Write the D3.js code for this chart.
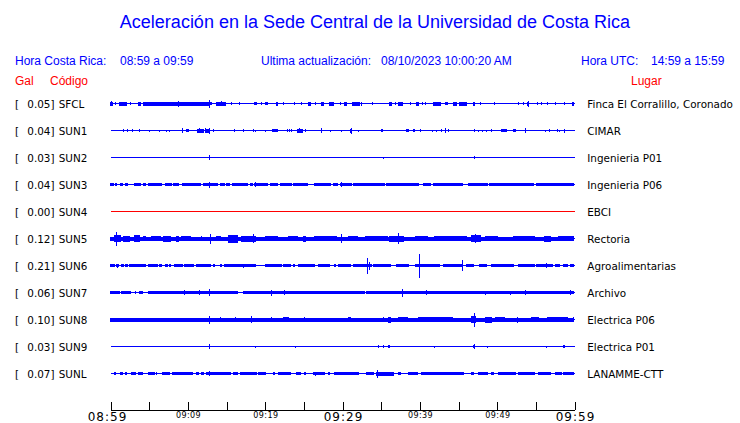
<!DOCTYPE html>
<html><head><meta charset="utf-8">
<script src="https://cdn.jsdelivr.net/npm/d3@7"></script>
<style>body{margin:0;background:#fff;} svg{display:block;}</style>
</head><body>
<svg id="c" width="740" height="423"></svg>
<script>
// ---------- data ----------
const codes  = ["SFCL","SUN1","SUN2","SUN3","SUN4","SUN5","SUN6","SUN7","SUN8","SUN9","SUNL"];
const galMax = [0.05,0.04,0.03,0.04,0.00,0.12,0.21,0.06,0.10,0.03,0.07];
const places = ["Finca El Corralillo, Coronado","CIMAR","Ingenieria P01","Ingenieria P06","EBCI","Rectoria","Agroalimentarias","Archivo","Electrica P06","Electrica P01","LANAMME-CTT"];

const tickMinutes = [0,5,10,15,20,25,30,35,40,45,50,55,60];
const tickLabels  = ["08:59","","09:09","","09:19","","09:29","","09:39","","09:49","","09:59"];
const majorLabels = ["08:59","09:29","09:59"];

// waveform envelopes: [startMinute, endMinute, amplitude] (minutes after 08:59)
const sfcl = [[0,0.37,2],[0.15,0.15,2.5],[0.71,0.88,1.3],[1.1,2.09,2],[2.56,2.74,1.5],[3.56,3.94,2],[4.25,12.22,2],[8.77,8.77,3],[12.22,12.74,2],[12.78,12.78,4],[12.99,13.3,1.5],[13.73,15.02,2],[14.37,14.37,2.8],[15.67,15.67,1.2],[16.66,16.66,1.2],[18.56,18.91,1.5],[19.55,19.55,1.2],[20.07,20.41,1.5],[21.49,21.79,2],[22.43,22.43,1.2],[23.77,23.77,1.2],[24.72,24.72,1.2],[25.66,26.09,2],[26.53,26.53,1.2],[27.22,27.6,2],[28.38,29.03,2],[29.68,29.68,1.2],[30.24,30.67,2],[31.27,32.26,2],[32.48,32.48,2],[33.86,33.86,1.2],[36.14,36.49,2],[36.88,36.88,1.2],[37.22,37.91,2],[38.77,38.77,1.2],[39.59,39.94,2],[40.32,40.32,1.2],[40.75,40.75,1.2],[41.74,42.82,2],[43.34,43.68,1.5],[44.29,44.8,2],[45.19,46.19,2],[47.0,47.22,2],[47.82,47.82,1.2],[49.63,49.63,1.2],[52.82,52.82,1.2],[53.38,53.38,1.2],[53.94,54.24,2],[54.07,54.07,3],[55.19,55.19,1.2],[55.75,55.75,1.2],[56.48,56.48,1.2],[57.48,57.48,1.2],[58.77,58.77,1.2],[59.76,60,2]];
const sun1 = [[1.66,1.66,1.2],[2.18,2.18,1.2],[2.82,2.82,1.2],[3.81,3.81,1.2],[5.02,5.02,1],[6.4,6.4,1],[7.18,7.18,1],[7.69,7.69,1],[9.29,9.29,2.5],[9.85,10.28,1.5],[11.27,12.22,2],[11.57,11.57,2.5],[12.22,12.22,2.5],[12.44,12.99,2],[12.74,12.74,3],[13.3,13.3,1.2],[16.01,16.19,1.2],[17.18,17.31,1.5],[18.47,18.47,1.2],[18.77,18.77,1],[19.98,19.98,1],[20.93,21.7,1.5],[22.91,22.91,1.2],[23.21,23.21,1.2],[23.43,23.43,1.2],[24.2,24.94,2],[24.42,24.42,2.5],[25.28,25.28,1.2],[27.3,27.3,2.8],[28.47,28.47,1],[29.89,29.89,1],[30.97,31.27,2],[31.19,31.19,3],[32.05,32.05,1],[34.98,35.2,1.5],[38.34,38.73,1.5],[39.16,39.38,1.5],[40.03,40.03,1.2],[41.62,41.62,1],[42.18,42.18,1],[42.74,42.74,1.2],[43.34,43.34,2.5],[43.68,43.68,1.5],[47.13,47.13,1.2],[47.56,47.56,1],[48.12,48.12,1],[48.64,48.64,1],[49.29,49.29,1.2],[50.5,51.23,1.5],[52.09,52.52,1.5],[53.64,53.64,2.8],[56.27,56.27,1],[56.83,56.83,1.2],[57.78,57.78,1.2],[58.12,58.12,1],[58.69,58.69,2]];
const sun2 = [[12.78,12.78,2.5],[35.28,35.28,1],[47.05,47.05,1.5]];
const sun3 = [[0,0.5,1.5],[0.71,1.01,1.5],[1.23,1.66,1.5],[1.96,2.39,1.5],[3.08,4.03,1.5],[4.25,4.68,1.5],[4.89,5.67,1.5],[5.75,6.83,1.5],[7.05,7.91,1.5],[8.21,8.99,1.5],[9.29,11.79,1.5],[12.0,13.94,1.5],[14.16,14.8,1.5],[15.02,15.58,1.5],[15.8,17.82,1.5],[18.04,18.47,1.5],[18.6,20.41,1.5],[20.63,21.7,1.5],[21.92,23.43,1.5],[23.64,25.58,1.5],[26.44,28.6,1.5],[28.81,29.46,1.5],[29.68,31.19,1.5],[31.4,35.5,1.5],[35.72,40.03,1.5],[40.45,41.53,1.5],[41.75,45.62,1.5],[46.27,48.86,1.5],[49.07,54.89,1.5],[55.11,60,1.5],[12.78,12.78,3],[18.69,18.69,2.5],[29.81,29.81,2.2],[15.88,15.88,1.8]];
const sun4 = [];
const sun5 = [[0,60,2],[0.58,1.44,3.5],[0.8,0.8,7],[1.66,2.52,3],[3.08,3.81,3.5],[4.25,4.68,2.5],[5.32,6.62,2.5],[6.83,7.91,3],[8.56,8.99,3],[9.2,10.5,2.5],[11.79,11.79,2.5],[12.87,12.87,5],[13.73,14.37,2.5],[15.24,16.53,4],[16.96,18.9,3],[18.47,18.47,4.5],[19.98,21.7,2.5],[22.99,24.29,2.5],[24.94,25.37,3],[26.44,29.46,2.5],[29.89,29.89,4.5],[30.75,32.05,2.5],[32.91,35.93,2.5],[36.14,38.08,3],[37.22,37.22,5.5],[39.38,41.1,2.5],[41.96,46.27,2.5],[46.7,47.99,3.5],[47.22,47.22,4.5],[48.43,50.15,2.5],[52.09,54.89,2.5],[56.18,57.04,3],[57.9,60,2.5]];
const sun6 = [[0,0.6,1.3],[0.8,1.23,1.3],[1.44,1.79,1.3],[1.96,2.31,1.3],[2.52,4.68,1.3],[4.89,6.19,1.3],[6.4,6.83,1.3],[7.05,7.48,1.3],[7.69,7.99,1.3],[8.25,9.42,1.3],[9.63,10.93,1.3],[11.14,13.08,1.3],[13.3,13.51,1.3],[14.16,14.37,1.3],[14.8,16.96,1.3],[16.96,18.9,1.3],[19.98,22.13,1.3],[22.56,23.43,1.3],[23.64,23.86,1.3],[24.29,26.44,1.3],[26.87,28.38,1.3],[29.03,29.24,1.3],[29.46,31.19,1.3],[31.4,32.91,1.3],[32.91,33.77,1.3],[33.99,36.36,1.3],[37.0,38.73,1.3],[39.38,42.61,1.3],[43.07,45.62,1.3],[46.05,47.13,1.3],[47.78,48.86,1.3],[49.29,52.3,1.3],[52.73,54.89,1.3],[55.1,57.26,1.3],[57.48,58.12,1.3],[58.55,59.2,1.3],[59.42,60,1.3],[0.93,0.93,2],[17.18,17.18,2],[22.35,22.35,1.7],[33.21,33.21,8],[33.47,33.47,4],[39.94,39.94,12],[45.5,45.5,5.5],[56.4,56.4,2.5]];
const sun7 = [[0,1.23,1.8],[1.44,2.74,1.8],[3.25,3.38,1.8],[3.81,4.38,1.8],[4.89,16.53,1.8],[17.18,32.91,1.8],[33.13,60,1.8],[9.63,9.63,2.5],[11.57,11.57,2.5],[12.78,12.78,3.5],[20.84,20.84,3],[22.56,22.56,2.2],[37.78,37.78,4],[40.88,40.88,2.5],[48.43,48.43,2],[51.66,51.66,2],[53.68,53.68,2.5],[59.5,59.5,2.5]];
const sun8 = [[0,60,2],[12.78,12.78,4],[14.16,14.16,2.5],[16.19,16.19,2.5],[18.26,18.26,3.5],[20.84,20.84,2.5],[22.35,23.13,2.5],[25.06,25.06,2.5],[28.25,28.25,2],[30.75,31.1,2.5],[35.28,35.28,2.5],[36.01,36.44,3],[37.22,38.51,2.5],[39.81,44.33,2.5],[46.62,47.22,3.5],[47.05,47.05,7],[48.43,49.29,3],[49.72,51.01,2.5],[52.61,52.61,3],[54.46,55.54,2.5],[56.48,59.2,2.5],[59.85,59.85,2.5]];
const sun9 = [[12.78,12.78,2.5],[18.77,18.77,1],[23.86,23.86,1],[34.63,34.63,1.5],[35.28,35.28,1.5],[36.01,36.23,1.5],[41.87,41.87,1],[46.96,47.22,1.8],[47.05,47.05,2.5],[48.73,48.73,1],[56.4,56.4,1],[58.56,58.56,1.5],[58.77,58.77,1.5]];
const sunl = [[0.58,0.8,1.3],[1.23,1.66,1.3],[1.88,2.09,1.3],[2.74,3.38,1.3],[3.6,4.25,1.3],[4.89,5.75,1.3],[5.97,5.97,1.3],[6.7,7.69,1.3],[8.04,10.71,1.3],[11.14,11.57,1.3],[11.79,12.22,1.3],[12.44,15.67,1.3],[15.88,16.53,1.3],[16.75,18.9,1.3],[19.12,20.19,1.3],[21.06,21.27,1.3],[21.7,23.43,1.3],[24.07,24.72,1.3],[25.15,25.37,1.3],[26.23,27.74,1.3],[28.17,28.38,1.3],[29.03,32.26,1.3],[33.13,34.2,1.3],[34.42,36.79,2],[37.22,37.65,1.3],[38.51,39.81,1.3],[40.24,45.84,1.3],[46.7,47.13,1.3],[47.56,48.86,1.3],[49.29,49.72,1.3],[50.15,52.52,1.3],[52.73,54.89,1.3],[55.32,57.04,1.3],[57.48,58.34,1.3],[58.56,60,1.3],[12.78,12.78,2.5],[34.55,34.55,4],[26.53,26.53,2],[48.43,48.43,1.8]];
const traces = [sfcl,sun1,sun2,sun3,sun4,sun5,sun6,sun7,sun8,sun9,sunl];

// ---------- drawing ----------
const svg = d3.select("#c");
const BLUE = "#0000ff", RED = "#ff0000";
const x = d3.scaleLinear().domain([0,60]).range([110.5,574.5]);
const y = d3.scalePoint().domain(codes).range([103.5,373.5]);
const amp = d3.scaleLinear().domain([0,13.5]).range([0,13.5]);

// title & header
svg.append("text").attr("x",375).attr("y",28).attr("text-anchor","middle")
  .attr("font-family","Liberation Sans, Arial, sans-serif").attr("font-size",18).attr("fill",BLUE)
  .text("Aceleración en la Sede Central de la Universidad de Costa Rica");
const hdr = [
  {t:"Hora Costa Rica:",x:15,y:64.5,c:BLUE},{t:"08:59 a 09:59",x:120,y:64.5,c:BLUE},
  {t:"Ultima actualización:",x:261,y:64.5,c:BLUE},{t:"08/10/2023 10:00:20 AM",x:381,y:64.5,c:BLUE},
  {t:"Hora UTC:",x:581,y:64.5,c:BLUE},{t:"14:59 a 15:59",x:651,y:64.5,c:BLUE},
  {t:"Gal",x:15,y:84.5,c:RED},{t:"Código",x:50,y:84.5,c:RED},{t:"Lugar",x:631,y:84.5,c:RED}];
svg.selectAll("text.hdr").data(hdr).join("text").attr("class","hdr")
  .attr("x",d=>d.x).attr("y",d=>d.y).attr("fill",d=>d.c)
  .attr("font-family","Liberation Sans, Arial, sans-serif").attr("font-size",12).text(d=>d.t);

const labFont = "DejaVu Sans, sans-serif", labSize = 10.4;
const rows = svg.append("g").selectAll("g").data(codes).join("g")
  .attr("transform",d=>`translate(0,${y(d)})`);
rows.append("text").attr("x",15).attr("y",4).attr("font-family",labFont).attr("font-size",labSize).text("[");
rows.append("text").attr("x",27.3).attr("y",4).attr("font-family",labFont).attr("font-size",labSize)
  .text((d,i)=>galMax[i].toFixed(2)+"]");
rows.append("text").attr("x",58.7).attr("y",4).attr("font-family",labFont).attr("font-size",labSize).text(d=>d);
rows.append("text").attr("x",587.3).attr("y",4).attr("font-family",labFont).attr("font-size",labSize)
  .text((d,i)=>places[i]);

rows.each(function(code,i){
  const g = d3.select(this);
  const col = galMax[i] === 0 ? RED : BLUE;
  const yc = y(code);
  g.append("line").attr("x1",x(0)).attr("x2",x(60)).attr("y1",0).attr("y2",0)
    .attr("stroke",col).attr("stroke-width",1).attr("shape-rendering","crispEdges");
  const top = d => Math.round(yc - amp(d[2]));
  const bot = d => Math.max(Math.round(yc + amp(d[2])), top(d) + 1);
  g.selectAll("rect").data(traces[i]).join("rect")
    .attr("x",d=>Math.round(x(d[0])-0.5))
    .attr("width",d=>Math.max(1,Math.round(x(d[1])-x(d[0]))))
    .attr("y",d=>top(d)-yc)
    .attr("height",d=>bot(d)-top(d))
    .attr("fill",col).attr("shape-rendering","crispEdges");
});

// axis
const axis = d3.axisBottom(x).tickValues(tickMinutes).tickFormat((d,i)=>tickLabels[i])
  .tickSizeInner(-8).tickSizeOuter(0);
const ax = svg.append("g").attr("transform","translate(0,409.5)").call(axis);
ax.select(".domain").attr("stroke","#000").attr("shape-rendering","crispEdges");
ax.selectAll(".tick line").attr("stroke","#000").attr("shape-rendering","crispEdges");
ax.selectAll(".tick text").attr("fill","#000").attr("dy",null)
  .attr("font-family","DejaVu Sans, sans-serif")
  .each(function(d,i){
    const t = d3.select(this), big = majorLabels.includes(tickLabels[i]);
    t.attr("font-size", big ? 12 : 8).attr("y", big ? 11.2 : 8.8)
     .attr("letter-spacing", big ? 1 : 0.4)
     .attr("dx", i === 0 ? -3.5 : (big ? 0.5 : 0.2));
  });
</script>
</body></html>
